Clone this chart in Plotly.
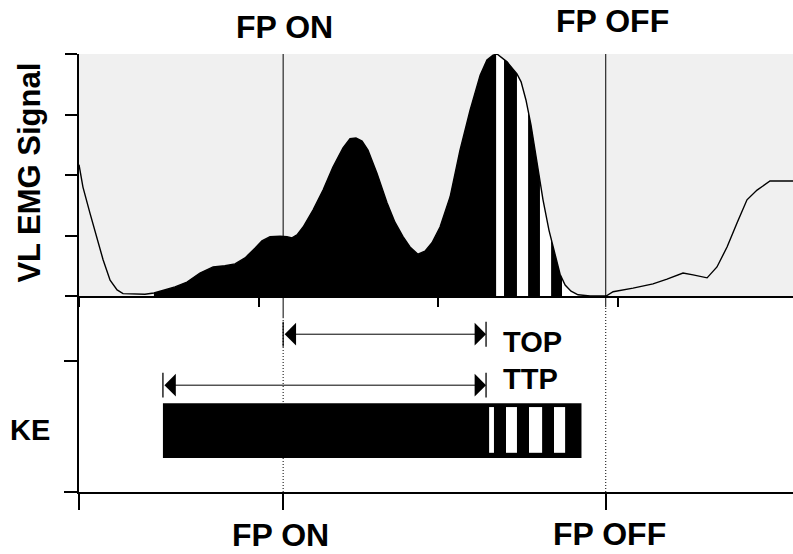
import plotly.graph_objects as go

# ---------------- data ----------------
# time axis in ms (ticks every 100 ms), EMG in arbitrary units (0-4)
t_ms = [0.0, 2.2, 6.1, 10.0, 13.4, 17.3, 21.2, 24.5, 30.0, 36.7, 41.7, 47.9, 53.4,
        60.1, 67.3, 74.6, 81.2, 86.8, 92.4, 97.9, 101.8, 106.3, 111.9, 115.7, 118.5,
        121.3, 124.7, 130.2, 135.8, 141.3, 146.9, 150.8, 154.1, 157.5, 160.8, 165.8,
        171.4, 175.8, 180.3, 184.2, 188.6, 192.5, 196.4, 200.9, 206.5, 212.0, 217.6,
        223.2, 227.0, 230.4, 232.6, 238.2, 243.7, 246.0, 248.7, 251.5, 254.9, 258.2,
        261.5, 264.9, 267.7, 270.5, 273.8, 277.7, 284.4, 293.3, 297.2, 308.3, 319.4,
        327.2, 336.1, 341.7, 349.5, 355.0, 360.6, 366.2, 371.7, 377.3, 384.5, 397.3]
vl_emg = [2.17, 1.80, 1.37, 0.98, 0.60, 0.26, 0.10, 0.04, 0.03, 0.03, 0.05, 0.10, 0.15,
          0.23, 0.38, 0.48, 0.50, 0.53, 0.63, 0.79, 0.91, 0.98, 0.99, 0.98, 0.96,
          1.01, 1.14, 1.42, 1.75, 2.13, 2.45, 2.60, 2.61, 2.56, 2.41, 2.03,
          1.54, 1.22, 0.98, 0.81, 0.69, 0.74, 0.88, 1.14, 1.64, 2.41, 3.07,
          3.65, 3.90, 3.98, 4.00, 3.87, 3.67, 3.54, 3.24, 2.83, 2.17, 1.59,
          1.09, 0.68, 0.36, 0.18, 0.08, 0.02, 0.00, 0.00, 0.07, 0.13, 0.20,
          0.28, 0.38, 0.35, 0.30, 0.48, 0.81, 1.21, 1.59, 1.75, 1.90, 1.90]

fp_on = 113.6          # force-plate contact
fp_off = 293.1         # force-plate release
ke_onset = 46.7        # knee-extension onset (TTP start)
t_peak = 226.5         # peak EMG (end of TOP / TTP)
ke_end = 279.6         # end of knee extension
emg_fill_start = 41.7
emg_white_bands = [(232.1, 236.5), (243.7, 249.9), (256.5, 262.7), (268.8, 282.0)]
ke_white_bands = [(228.2, 230.9), (237.6, 243.7), (250.4, 257.7), (264.3, 270.5)]

top_xticks = [0, 100, 200, 300]
bottom_xticks = [0, fp_on, fp_off]
emg_yticks = [0, 1, 2, 3, 4]
ke_yticks = [0, 2]

labels_top = ["FP ON", "FP OFF"]
labels_bottom = ["FP ON", "FP OFF"]

# ---------------- styling ----------------
X_MAX = 397.3
EMG_TOP = 4
KE_TOP = 3
GRAY = "#f0f0f0"
FONT = "Liberation Sans, Arial, sans-serif"
SPLIT = 0.4475

fig = go.Figure()

# gray mask above the curve (hides the stripe rectangles above the curve)
fig.add_trace(go.Scatter(
    x=t_ms + [t_ms[-1], t_ms[0]], y=vl_emg + [EMG_TOP, EMG_TOP],
    fill="toself", fillcolor=GRAY, mode="lines", line=dict(width=0),
    hoverinfo="skip", showlegend=False, xaxis="x", yaxis="y"))
# EMG curve
fig.add_trace(go.Scatter(
    x=t_ms, y=vl_emg, mode="lines", line=dict(color="black", width=1.4),
    hoverinfo="skip", showlegend=False, xaxis="x", yaxis="y"))

shapes = []
# top panel background
shapes.append(dict(type="rect", xref="x domain", yref="y domain", x0=0, x1=1, y0=0, y1=1,
                   fillcolor=GRAY, line=dict(width=0), layer="below"))
# black area under the curve
shapes.append(dict(type="rect", xref="x", yref="y", x0=emg_fill_start, x1=emg_white_bands[-1][0],
                   y0=0, y1=EMG_TOP, fillcolor="black", line=dict(width=0), layer="below"))
for a, b in emg_white_bands:
    shapes.append(dict(type="rect", xref="x", yref="y", x0=a, x1=b, y0=0, y1=EMG_TOP,
                       fillcolor="white", line=dict(width=0), layer="below"))

# FP vertical lines in the top panel (solid), small extension below, then dotted
for xv, ext in [(fp_on, 2.66), (fp_off, 2.83)]:
    shapes.append(dict(type="line", xref="x", yref="y", x0=xv, x1=xv, y0=0, y1=EMG_TOP,
                       line=dict(color="black", width=1)))
    shapes.append(dict(type="line", xref="x2", yref="y2", x0=xv, x1=xv, y0=ext, y1=KE_TOP,
                       line=dict(color="black", width=1)))
    shapes.append(dict(type="line", xref="x2", yref="y2", x0=xv, x1=xv, y0=0, y1=ext,
                       line=dict(color="black", width=1, dash="1px,2px")))

# KE bar
shapes.append(dict(type="rect", xref="x2", yref="y2", x0=ke_onset, x1=ke_end, y0=0.52, y1=1.36,
                   fillcolor="black", line=dict(width=0)))
for a, b in ke_white_bands:
    shapes.append(dict(type="rect", xref="x2", yref="y2", x0=a, x1=b, y0=0.60, y1=1.30,
                       fillcolor="white", line=dict(width=0)))

# arrow end bars
TOP_Y, TTP_Y, HALF = 2.415, 1.635, 0.19
for xv, yv in [(fp_on, TOP_Y), (t_peak, TOP_Y), (ke_onset, TTP_Y), (t_peak, TTP_Y)]:
    shapes.append(dict(type="line", xref="x2", yref="y2", x0=xv, x1=xv, y0=yv - HALF, y1=yv + HALF,
                       line=dict(color="black", width=1.3)))

annotations = []
for start, yv in [(fp_on, TOP_Y), (ke_onset, TTP_Y)]:
    annotations.append(dict(
        x=t_peak, y=yv, ax=start, ay=yv, xref="x2", yref="y2", axref="x2", ayref="y2",
        text="", showarrow=True, arrowside="end+start", arrowhead=1, startarrowhead=1,
        arrowsize=3.8, startarrowsize=3.8, arrowwidth=1, arrowcolor="black",
        standoff=0, startstandoff=0))

PLOT_H = 438.0  # plot-area height in px, for paper-coordinate placement
bold = dict(family=FONT, size=29, color="black", weight="bold")
big = dict(bold, size=32)
annotations += [
    dict(text="TOP", x=t_peak, y=2.30, xref="x2", yref="y2", xanchor="left", yanchor="middle",
         xshift=15, showarrow=False, font=bold),
    dict(text="TTP", x=t_peak, y=1.73, xref="x2", yref="y2", xanchor="left", yanchor="middle",
         xshift=15, showarrow=False, font=bold),
    dict(text="KE", x=0, y=0.95, xref="paper", yref="y2", xanchor="center", yanchor="middle",
         xshift=-49, showarrow=False, font=bold),
    dict(text="VL EMG Signal", x=0, y=2.04, xref="paper", yref="y", xanchor="center",
         yanchor="middle", xshift=-49, textangle=-90, showarrow=False,
         font=dict(bold, size=31)),
    dict(text=labels_top[0], x=fp_on, y=1 + 27.0 / PLOT_H, xref="x", yref="paper",
         xanchor="center", yanchor="middle", xshift=1, showarrow=False, font=big),
    dict(text=labels_top[1], x=fp_off, y=1 + 33.0 / PLOT_H, xref="x", yref="paper",
         xanchor="center", yanchor="middle", xshift=7, showarrow=False, font=big),
    dict(text=labels_bottom[0], x=fp_on, y=-43.0 / PLOT_H, xref="x", yref="paper",
         xanchor="center", yanchor="middle", xshift=-3, showarrow=False, font=big),
    dict(text=labels_bottom[1], x=fp_off, y=-42.0 / PLOT_H, xref="x", yref="paper",
         xanchor="center", yanchor="middle", xshift=4, showarrow=False, font=big),
]

axis_common = dict(showline=True, linecolor="black", linewidth=1.5, ticks="outside",
                   tickcolor="black", tickwidth=1.5, showticklabels=False,
                   showgrid=False, zeroline=False, fixedrange=True)

fig.update_layout(
    width=793, height=554,
    margin=dict(l=79, r=0, t=54, b=62),
    paper_bgcolor="white", plot_bgcolor="white",
    showlegend=False,
    shapes=shapes, annotations=annotations,
    xaxis=dict(axis_common, domain=[0, 1], range=[0, X_MAX], anchor="y",
               tickvals=top_xticks, ticklen=9),
    yaxis=dict(axis_common, domain=[SPLIT, 1], range=[0, EMG_TOP], anchor="x",
               tickvals=emg_yticks, ticklen=12),
    xaxis2=dict(axis_common, domain=[0, 1], range=[0, X_MAX], anchor="y2",
                tickvals=bottom_xticks, ticklen=16),
    yaxis2=dict(axis_common, domain=[0, SPLIT], range=[0, KE_TOP], anchor="x2",
                tickvals=ke_yticks, ticklen=13),
)

# remove the browser's default 8px page margin so the figure fills the window exactly
fig.write_html("out.html", config={"displayModeBar": False},
               post_script="document.body.style.margin='0';document.body.style.overflow='hidden';")
